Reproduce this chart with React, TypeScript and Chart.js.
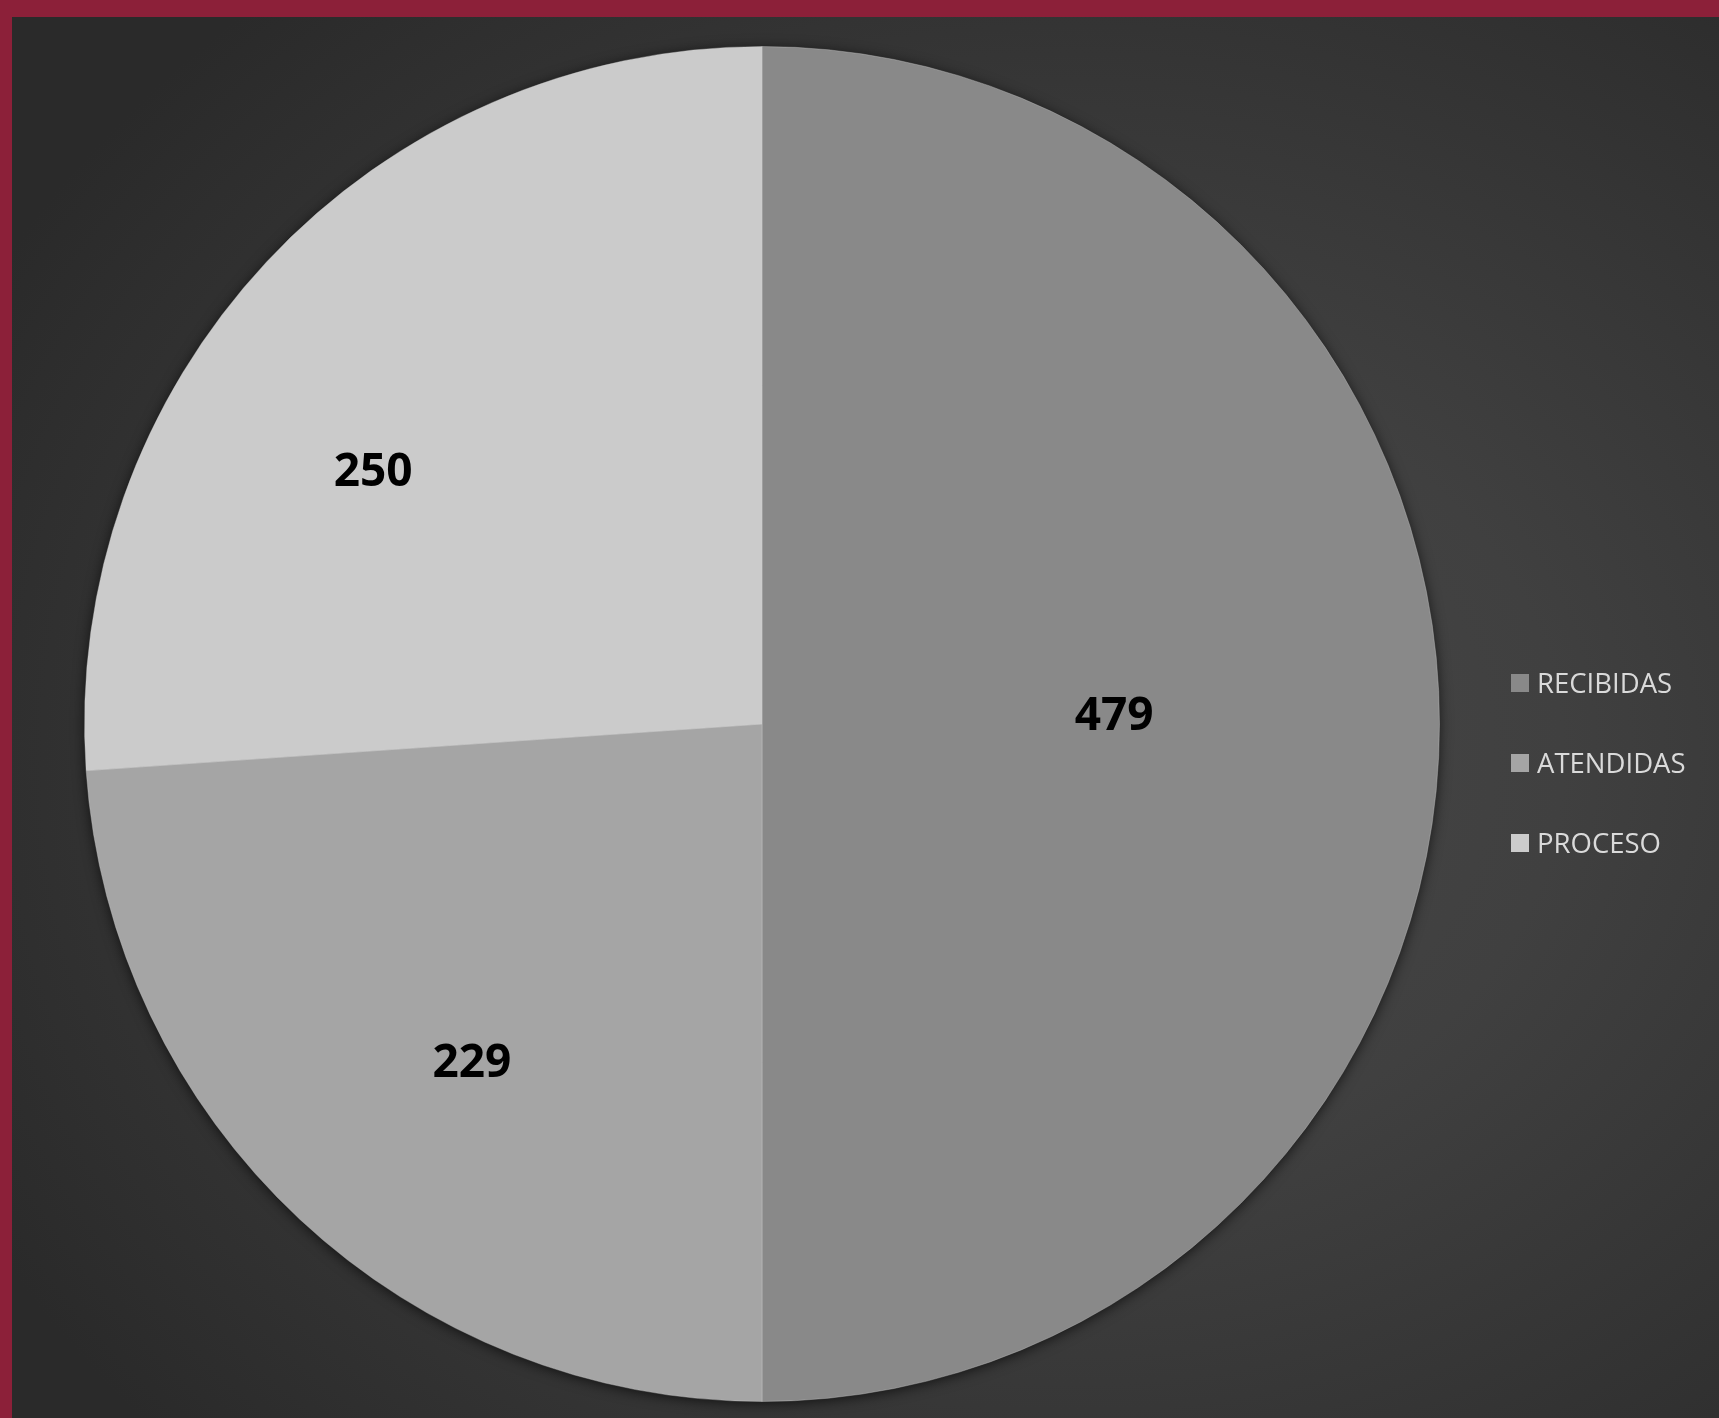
import React, { useEffect, useRef } from "react";
import { Chart, registerables } from "chart.js";

Chart.register(...registerables);

const categories = ["RECIBIDAS", "ATENDIDAS", "PROCESO"];
const values = [479, 229, 250];
const sliceColors = ["#898989", "#a5a5a5", "#cbcbcb"];

// label placement relative to each slice (fraction of radius, angle shift in degrees)
const labelRadius = [0.52, 0.655, 0.686];
const labelShiftDeg = [-1.8, -2.2, -9.8];

const shadowPlugin = {
  id: "pieShadow",
  beforeDatasetsDraw(chart: any) {
    const meta = chart.getDatasetMeta(0);
    const arc = meta.data[0];
    if (!arc) return;
    const { x, y, outerRadius } = arc.getProps(["x", "y", "outerRadius"], true);
    const ctx = chart.ctx;
    ctx.save();
    ctx.shadowColor = "rgba(0,0,0,0.75)";
    ctx.shadowBlur = 14;
    ctx.shadowOffsetX = 0;
    ctx.shadowOffsetY = 2;
    ctx.beginPath();
    ctx.arc(x, y, outerRadius - 1, 0, Math.PI * 2);
    ctx.fillStyle = "#898989";
    ctx.fill();
    ctx.restore();
  },
};

const labelPlugin = {
  id: "sliceLabels",
  afterDatasetsDraw(chart: any) {
    const meta = chart.getDatasetMeta(0);
    const ctx = chart.ctx;
    const data = chart.data.datasets[0].data;
    ctx.save();
    ctx.font = "bold 46px 'Open Sans'";
    ctx.fillStyle = "#000000";
    ctx.textAlign = "center";
    ctx.textBaseline = "alphabetic";
    meta.data.forEach((arc: any, i: number) => {
      const { x, y, startAngle, endAngle, outerRadius } = arc.getProps(
        ["x", "y", "startAngle", "endAngle", "outerRadius"],
        true
      );
      const a = (startAngle + endAngle) / 2 + (labelShiftDeg[i] * Math.PI) / 180;
      const r = outerRadius * labelRadius[i];
      const lx = x + Math.cos(a) * r;
      const ly = y + Math.sin(a) * r;
      const txt = String(data[i]);
      const m = ctx.measureText(txt);
      ctx.fillText(txt, lx, ly + m.actualBoundingBoxAscent / 2);
    });
    ctx.restore();
  },
};

const legendPlugin = {
  id: "sideLegend",
  afterDraw(chart: any) {
    const ctx = chart.ctx;
    const labels = chart.data.labels;
    const colors = chart.data.datasets[0].backgroundColor;
    const boxX = 1499;
    const firstMid = 666;
    const step = 80;
    const box = 18;
    ctx.save();
    ctx.font = "27.5px 'Open Sans'";
    ctx.textAlign = "left";
    ctx.textBaseline = "alphabetic";
    labels.forEach((lab: string, i: number) => {
      const mid = firstMid + step * i;
      ctx.fillStyle = colors[i];
      ctx.fillRect(boxX, mid - box / 2, box, box);
      ctx.fillStyle = "#dadada";
      const m = ctx.measureText("H");
      ctx.fillText(lab, boxX + 26, mid + m.actualBoundingBoxAscent / 2);
    });
    ctx.restore();
  },
};

export default function App() {
  const canvasRef = useRef<HTMLCanvasElement | null>(null);

  useEffect(() => {
    document.body.style.margin = "0";
    const canvas = canvasRef.current;
    if (!canvas) return;
    const chart = new Chart(canvas, {
      type: "pie",
      data: {
        labels: categories,
        datasets: [
          {
            data: values,
            backgroundColor: sliceColors,
            borderColor: "rgba(210,210,210,0.35)",
            borderWidth: 1,
          },
        ],
      },
      options: {
        animation: false,
        responsive: false,
        maintainAspectRatio: false,
        devicePixelRatio: 1,
        layout: { padding: { left: 72, right: 279, top: 29, bottom: 16 } },
        plugins: {
          legend: { display: false },
          tooltip: { enabled: false },
        },
      },
      plugins: [shadowPlugin, labelPlugin, legendPlugin],
    });
    return () => chart.destroy();
  }, []);

  return (
    <div
      style={{
        position: "absolute",
        left: 0,
        top: 0,
        width: 1719,
        height: 1418,
        background: "#8c2039",
        overflow: "hidden",
      }}
    >
      <div
        style={{
          position: "absolute",
          left: 12,
          top: 17,
          width: 1707,
          height: 1401,
          background:
            "radial-gradient(ellipse 72% 72% at 62% 53%, #474747 0%, #404040 40%, #2a2a2a 100%)",
        }}
      >
        <canvas
          ref={canvasRef}
          width={1707}
          height={1401}
          style={{ display: "block", width: 1707, height: 1401 }}
        />
      </div>
    </div>
  );
}
